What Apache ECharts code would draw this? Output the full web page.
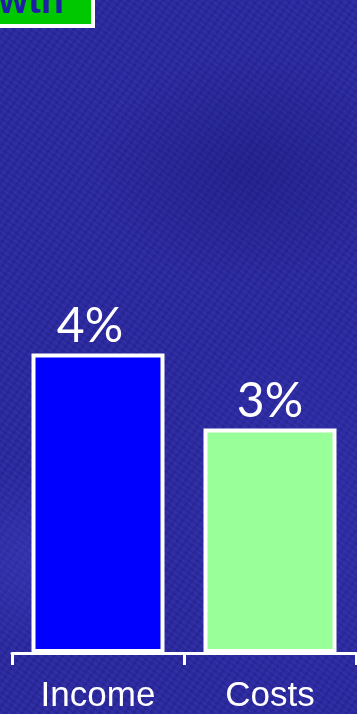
<!DOCTYPE html>
<html>
<head>
<meta charset="utf-8">
<title>Growth</title>
<script src="https://cdn.jsdelivr.net/npm/echarts@6/dist/echarts.min.js"></script>
<style>
  html, body { margin: 0; padding: 0; width: 357px; height: 714px; overflow: hidden; }
  body {
    background-color: #2a28a0;
    background-image:
      radial-gradient(ellipse 120px 90px at 40px 560px, rgba(70,70,200,0.35), rgba(70,70,200,0) 100%),
      radial-gradient(ellipse 160px 120px at 250px 170px, rgba(20,20,110,0.35), rgba(20,20,110,0) 100%),
      radial-gradient(ellipse 140px 200px at 300px 520px, rgba(60,60,190,0.25), rgba(60,60,190,0) 100%),
      repeating-linear-gradient(35deg, rgba(255,255,255,0.025) 0 2px, rgba(0,0,0,0.03) 2px 5px),
      repeating-linear-gradient(-55deg, rgba(0,0,40,0.05) 0 3px, rgba(120,120,255,0.03) 3px 7px);
  }
  #chart { width: 357px; height: 714px; }
</style>
</head>
<body>
<div id="chart"></div>
<script>
// Growth comparison: income vs costs (percent)
const categories = ['Income', 'Costs'];
const growthValues = [4, 3];
const valueSuffix = '%';

// per-bar styling
const barFills = ['#0000ff', '#99ff99'];
const labelShiftX = [-8, 0];

const chart = echarts.init(document.getElementById('chart'), null, { renderer: 'canvas' });

chart.setOption({
  backgroundColor: 'transparent',
  animation: false,
  grid: { left: 12, right: 1, top: 54, bottom: 59, containLabel: false },
  xAxis: {
    type: 'category',
    data: categories,
    axisLine: { show: true, lineStyle: { color: '#ffffff', width: 3 } },
    axisTick: { show: true, length: 12, lineStyle: { color: '#ffffff', width: 3 } },
    axisLabel: {
      color: '#ffffff',
      fontFamily: 'Liberation Sans',
      fontSize: 35,
      margin: 26,
      textShadowColor: '#000000',
      textShadowOffsetX: 2,
      textShadowOffsetY: 2,
      textShadowBlur: 0
    },
    splitLine: { show: false }
  },
  yAxis: {
    type: 'value',
    min: 0,
    max: 8,
    show: false
  },
  series: [{
    type: 'bar',
    barWidth: 133,
    data: growthValues.map((v, i) => ({
      value: v,
      itemStyle: { color: barFills[i] },
      label: { offset: [labelShiftX[i], 0] }
    })),
    itemStyle: { borderColor: '#ffffff', borderWidth: 4 },
    label: {
      show: true,
      position: 'top',
      distance: 3,
      formatter: p => p.value + valueSuffix,
      color: '#ffffff',
      fontFamily: 'Lato',
      fontSize: 48,
      textShadowColor: '#000000',
      textShadowOffsetX: 2,
      textShadowOffsetY: 2,
      textShadowBlur: 0
    }
  }],
  graphic: [
    {
      type: 'rect',
      shape: { x: -10, y: -10, width: 103, height: 36 },
      style: { fill: '#00c800', stroke: '#ffffff', lineWidth: 4 },
      z: 10
    },
    {
      type: 'text',
      x: 64,
      y: 22,
      style: {
        text: 'Growth',
        fill: '#1e1ea6',
        font: 'bold 38px "Liberation Sans"',
        align: 'right',
        verticalAlign: 'bottom'
      },
      z: 11
    }
  ]
});
</script>
</body>
</html>
